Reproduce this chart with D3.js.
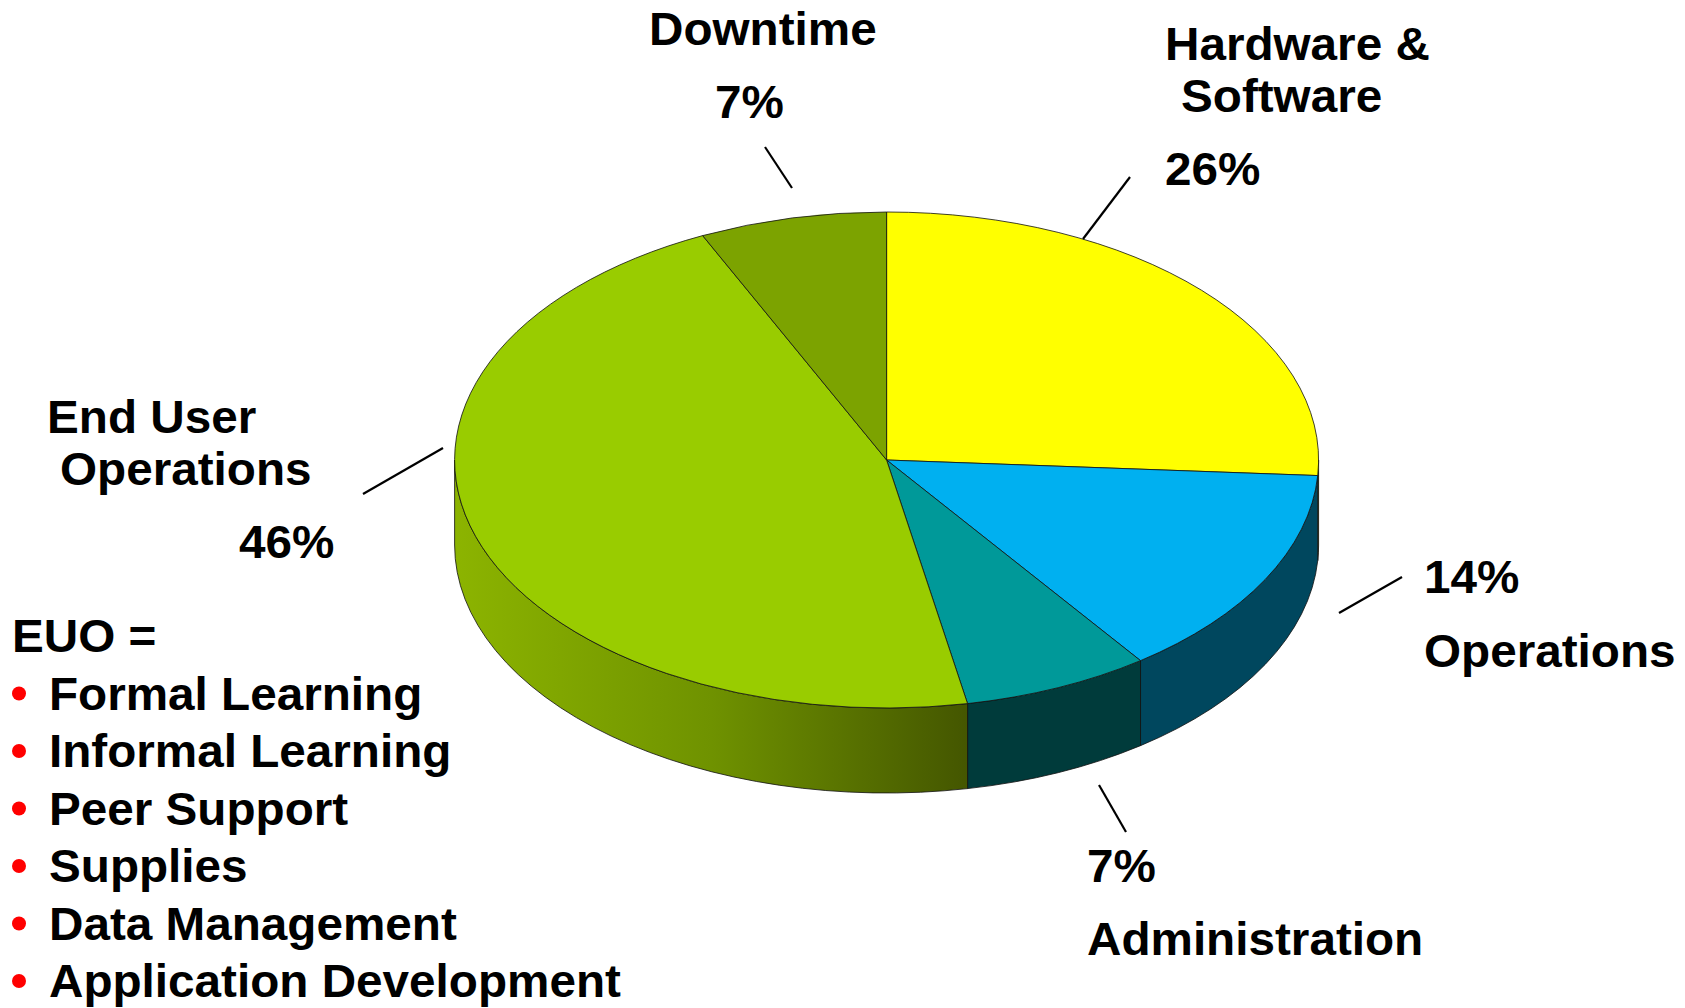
<!DOCTYPE html>
<html>
<head>
<meta charset="utf-8">
<script src="https://cdn.jsdelivr.net/npm/d3@7"></script>
<style>
  body { margin: 0; background: #fff; }
  svg text { font-family: "Liberation Sans", Arial, sans-serif; font-weight: bold; font-size: 46px; fill: #000; }
</style>
</head>
<body>
<div id="chart"></div>
<script>

// cost breakdown, 3d pie
var categories = ["Hardware & Software", "Operations", "Administration", "End User Operations", "Downtime"];
var values = [26, 14, 7, 46, 7];
var nameLines = [["Hardware &", "Software"], ["Operations"], ["Administration"], ["End User", "Operations"], ["Downtime"]];
var euoItems = ["Formal Learning", "Informal Learning", "Peer Support", "Supplies", "Data Management", "Application Development"];

var topColors = ["#ffff00", "#00b0f0", "#009999", "#99cc00", "#7ca300"];
var sideColors = ["#7f7f00", "#00475e", "#003b3b", "url(#greenSide)", "#3d5200"];

// where the labels sit, one entry per category
var labelLayout = [
  { name: [[1165, 60], [1181, 112]], pct: [1165, 185], leader: [[1130, 177], [1083, 239]] },
  { name: [[1424, 667]], pct: [1424, 593], leader: [[1402, 577], [1339, 613]] },
  { name: [[1087, 955]], pct: [1087, 882], leader: [[1099, 785], [1126, 832]] },
  { name: [[47, 433], [60, 485]], pct: [239, 558], leader: [[363, 494], [443, 448]] },
  { name: [[649, 45]], pct: [715, 118], leader: [[765, 147], [792, 188]] }
];

var width = 1685, height = 1008;
var cx = 886.6, cy = 460, rx = 432, ry = 248, depth = 85;
var stretch = 1.036; // text in the source is a bit wider than plain Arial

var svg = d3.select("#chart")
  .append("svg")
  .attr("width", width)
  .attr("height", height);

var defs = svg.append("defs");
var grad = defs.append("linearGradient")
  .attr("id", "greenSide")
  .attr("gradientUnits", "userSpaceOnUse")
  .attr("x1", cx - rx).attr("x2", cx + rx * 0.19)
  .attr("y1", 0).attr("y2", 0);
grad.append("stop").attr("offset", 0).attr("stop-color", "#8cb400");
grad.append("stop").attr("offset", 0.5).attr("stop-color", "#6f9200");
grad.append("stop").attr("offset", 1).attr("stop-color", "#445600");

var pie = d3.pie().sort(null).value(function (d) { return d; });
var arcs = pie(values);

function pt(a, dy) {
  return [cx + rx * Math.sin(a), cy - ry * Math.cos(a) + (dy || 0)];
}

function topPath(d) {
  var p0 = pt(d.startAngle), p1 = pt(d.endAngle);
  var large = (d.endAngle - d.startAngle) > Math.PI ? 1 : 0;
  return "M" + cx + "," + cy + "L" + p0 + "A" + rx + "," + ry + " 0 " + large + " 1 " + p1 + "Z";
}

function sidePath(d) {
  var s0 = Math.max(d.startAngle, Math.PI / 2);
  var s1 = Math.min(d.endAngle, Math.PI * 1.5);
  if (s1 <= s0) return null;
  var a = pt(s0), b = pt(s1), c = pt(s1, depth), e = pt(s0, depth);
  return "M" + a + "A" + rx + "," + ry + " 0 0 1 " + b +
    "L" + c + "A" + rx + "," + ry + " 0 0 0 " + e + "Z";
}

function putText(g, x, y, t) {
  return g.append("text")
    .attr("transform", "translate(" + x + "," + y + ") scale(" + stretch + ",1)")
    .text(t);
}

var pieG = svg.append("g");

pieG.selectAll(".side")
  .data(arcs.filter(function (d) { return sidePath(d); }))
  .enter()
  .append("path")
  .attr("class", "side")
  .attr("d", sidePath)
  .attr("fill", function (d) { return sideColors[d.index]; })
  .attr("stroke", "#111")
  .attr("stroke-opacity", 0.8)
  .attr("stroke-width", 1);

pieG.selectAll(".top")
  .data(arcs)
  .enter()
  .append("path")
  .attr("class", "top")
  .attr("d", topPath)
  .attr("fill", function (d) { return topColors[d.index]; })
  .attr("stroke", "#111")
  .attr("stroke-opacity", 0.8)
  .attr("stroke-width", 1)
  .attr("stroke-linejoin", "round");

// labels and leader lines
var labels = svg.append("g");

labelLayout.forEach(function (l, i) {
  labels.append("line")
    .attr("x1", l.leader[0][0]).attr("y1", l.leader[0][1])
    .attr("x2", l.leader[1][0]).attr("y2", l.leader[1][1])
    .attr("stroke", "#000")
    .attr("stroke-width", 2.2);

  nameLines[i].forEach(function (t, j) {
    putText(labels, l.name[j][0], l.name[j][1], t);
  });

  putText(labels, l.pct[0], l.pct[1], values[i] + "%");
});

// EUO list
var listTop = 652, lineStep = 57.5;
var list = svg.append("g");

putText(list, 12, listTop, "EUO =");

euoItems.forEach(function (d, i) {
  var y = listTop + (i + 1) * lineStep;
  list.append("circle")
    .attr("cx", 19)
    .attr("cy", y - 16)
    .attr("r", 7)
    .attr("fill", "#ff0000");
  putText(list, 49, y, d);
});

</script>
</body>
</html>
